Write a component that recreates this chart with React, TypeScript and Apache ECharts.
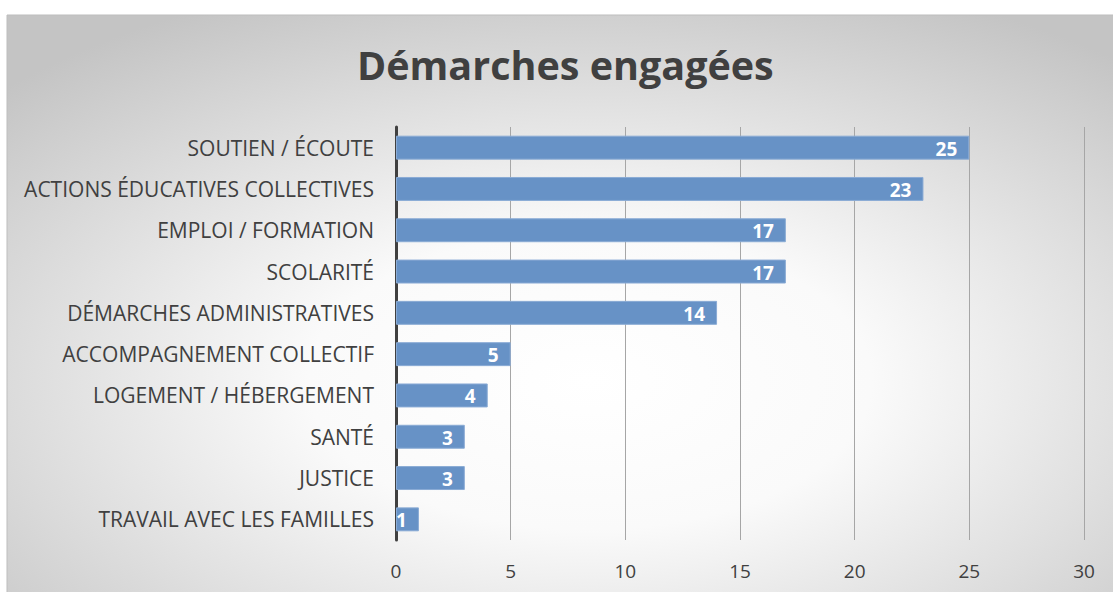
import React, { useEffect, useRef } from "react";
import * as echarts from "echarts";

const categories = [
  "SOUTIEN / ÉCOUTE",
  "ACTIONS ÉDUCATIVES COLLECTIVES",
  "EMPLOI / FORMATION",
  "SCOLARITÉ",
  "DÉMARCHES ADMINISTRATIVES",
  "ACCOMPAGNEMENT COLLECTIF",
  "LOGEMENT / HÉBERGEMENT",
  "SANTÉ",
  "JUSTICE",
  "TRAVAIL AVEC LES FAMILLES",
];
const values = [25, 23, 17, 17, 14, 5, 4, 3, 3, 1];
const titleText = "Démarches engagées";

const FONT = "'Open Sans', 'Noto Sans', sans-serif";

export default function App() {
  const ref = useRef<HTMLDivElement>(null);
  useEffect(() => {
    const chart = echarts.init(ref.current!, null, { renderer: "svg" });
    chart.setOption({
      animation: false,
      graphic: [
        {
          type: "rect",
          z: -10,
          silent: true,
          shape: { x: 7, y: 15, width: 1120, height: 590 },
          style: {
            fill: new echarts.graphic.RadialGradient(0.52, 0.62, 0.72, [
              { offset: 0, color: "#ffffff" },
              { offset: 0.35, color: "#fafafa" },
              { offset: 1, color: "#c4c4c4" },
            ]),
            stroke: "#bdbdbd",
            lineWidth: 1,
          },
        },
      ],
      title: {
        text: titleText,
        left: 352,
        top: 40,
        textStyle: {
          fontFamily: FONT,
          fontWeight: "bold",
          fontSize: 39.5,
          color: "#404040",
        },
      },
      grid: { left: 396, right: 29, top: 127, bottom: 52, containLabel: false },
      xAxis: {
        type: "value",
        min: 0,
        max: 30,
        interval: 5,
        axisLine: { show: false },
        axisTick: { show: false },
        splitLine: { show: true, lineStyle: { color: "#a6a6a6", width: 1 } },
        axisLabel: {
          fontFamily: FONT,
          fontSize: 19,
          color: "#404040",
          margin: 21,
        },
      },
      yAxis: {
        type: "category",
        inverse: true,
        data: categories,
        axisLine: { show: true, lineStyle: { color: "#404040", width: 3 } },
        axisTick: { show: false },
        axisLabel: {
          fontFamily: FONT,
          fontSize: 21,
          color: "#404040",
          margin: 22,
        },
      },
      series: [
        {
          type: "bar",
          data: values,
          barWidth: "58%",
          itemStyle: {
            color: "#6792c6",
            borderColor: "#8aabd5",
            borderWidth: 1,
          },
          label: {
            show: true,
            position: "insideRight",
            distance: 12,
            color: "#ffffff",
            fontFamily: FONT,
            fontWeight: "bold",
            fontSize: 19,
            offset: [0, 1],
          },
        },
      ],
    });
    return () => chart.dispose();
  }, []);
  return (
    <div
      ref={ref}
      style={{
        position: "fixed",
        left: 0,
        top: 0,
        width: 1113,
        height: 592,
        background: "#ffffff",
      }}
    />
  );
}
